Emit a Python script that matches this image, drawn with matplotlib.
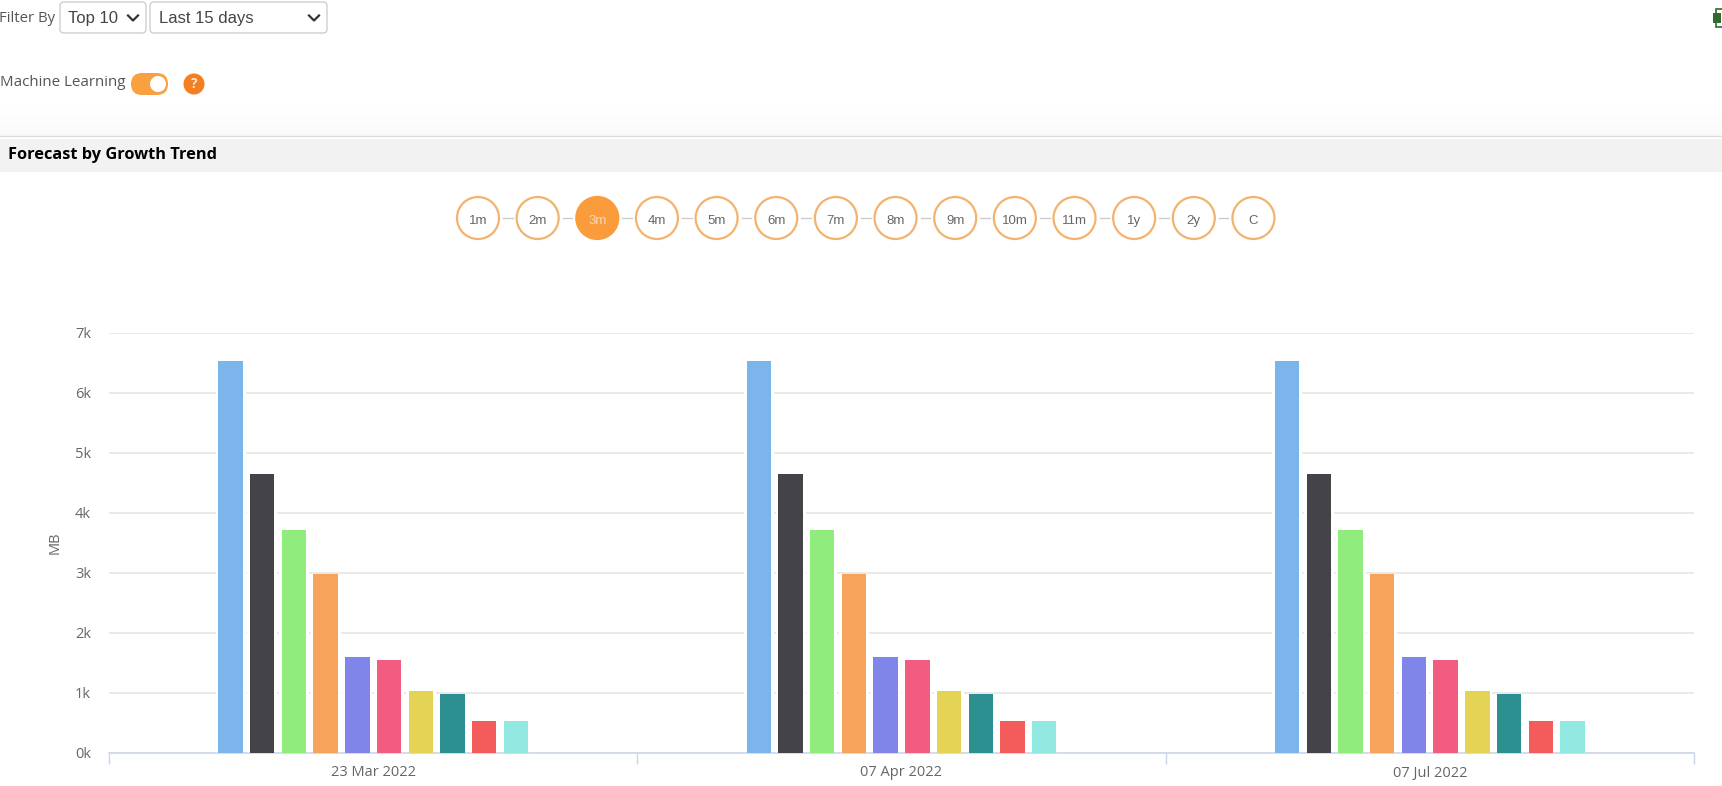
import matplotlib
matplotlib.use("Agg")
import matplotlib.pyplot as plt
from matplotlib.patches import Circle, FancyBboxPatch, Rectangle
import numpy as np

W, H = 1722, 786

dates = ["23 Mar 2022", "07 Apr 2022", "07 Jul 2022"]
values = [6530, 4650, 3720, 2980, 1600, 1550, 1030, 985, 530, 530]
colors = ["#7cb5ec", "#434348", "#90ed7d", "#f7a35c", "#8085e9",
          "#f15c80", "#e4d354", "#2b908f", "#f45b5b", "#91e8e1"]
yticks = [0, 1000, 2000, 3000, 4000, 5000, 6000, 7000]
ytick_labels = ["0k", "1k", "2k", "3k", "4k", "5k", "6k", "7k"]
ranges = ["1m", "2m", "3m", "4m", "5m", "6m", "7m", "8m", "9m", "10m", "11m", "1y", "2y", "C"]
active_range = "3m"

plt.rcParams["font.family"] = ["Open Sans", "DejaVu Sans"]
fig = plt.figure(figsize=(W / 100, H / 100), dpi=100)

# Chart
left, right, top, bottom = 109, 1694, 333, 753
ax = fig.add_axes([left / W, 1 - bottom / H, (right - left) / W, (bottom - top) / H])
band = (right - left) / 3
pitch = 31.7 / band
width = 24.4 / band
halo = 30 / band
x = np.arange(len(dates))
for i, (v, c) in enumerate(zip(values, colors)):
    pos = x + (i - 4.5) * pitch
    ax.bar(pos, [v] * len(dates), width=halo, color="white", zorder=2)
    ax.bar(pos, [v] * len(dates), width=width, color=c, zorder=3)

ax.set_xlim(-0.5, 2.5)
ax.set_ylim(0, 7000)
ax.set_yticks(yticks)
ax.set_yticklabels(ytick_labels, color="#666666", fontsize=10.5)
ax.set_xticks(x)
ax.set_xticklabels(dates, color="#666666", fontsize=10.5)
ax.tick_params(axis="y", length=0, pad=13)
ax.tick_params(axis="x", length=0, pad=9)
ax.set_xticks(np.arange(-0.5, 3), minor=True)
ax.tick_params(axis="x", which="minor", length=8, width=1, color="#ccd6eb")
ax.grid(axis="y", color="#e6e6e6", lw=1.2, zorder=1)
ax.set_axisbelow(True)
for s in ["top", "left", "right"]:
    ax.spines[s].set_visible(False)
ax.spines["bottom"].set_color("#ccd6eb")
ax.spines["bottom"].set_linewidth(1.2)
ax.set_ylabel("MB", color="#666666", fontsize=10.5, labelpad=9)

# Page controls around the chart, in pixel coordinates
ui = fig.add_axes([0, 0, 1, 1], zorder=-1)
ui.set_xlim(0, W)
ui.set_ylim(H, 0)
ui.axis("off")

def box(x0, y0, w, h):
    ui.add_patch(FancyBboxPatch((x0, y0), w, h, boxstyle="round,pad=0,rounding_size=4",
                                fc="white", ec="#cfcfcf", lw=1))

def chevron(cx, cy):
    ui.plot([cx - 5, cx, cx + 5], [cy - 2.5, cy + 2.5, cy - 2.5], color="#333333", lw=1.6)

ui.text(-1, 19, "Filter By", fontsize=10.7, color="#555555", va="center")
box(60, 2, 86, 31)
ui.text(68, 18, "Top 10", family="Liberation Sans", fontsize=12, color="#444444", va="center")
chevron(133, 18)
box(150, 2, 177, 31)
ui.text(159, 18, "Last 15 days", family="Liberation Sans", fontsize=12, color="#444444", va="center")
chevron(314, 18)

ui.text(0, 83, "Machine Learning", fontsize=10.9, color="#555555", va="center")
ui.add_patch(FancyBboxPatch((131, 73), 37, 22, boxstyle="round,pad=0,rounding_size=11",
                            fc="#f9a040", ec="none"))
ui.add_patch(Circle((158, 84), 8, fc="white", ec="none"))
ui.add_patch(Circle((194, 84), 10.5, fc="#f47f20", ec="none"))
ui.text(194, 84, "?", fontsize=10, fontweight="bold", color="#f8e8d8", ha="center", va="center")

# faint shadow above the section header
ui.imshow(np.linspace(1, 0.975, 32).reshape(-1, 1), cmap="gray", vmin=0, vmax=1,
          extent=(0, W, 136, 104), aspect="auto", zorder=0)
ui.set_xlim(0, W)
ui.set_ylim(H, 0)
ui.plot([0, W], [136, 136], color="#dddddd", lw=1)
ui.add_patch(Rectangle((0, 139), W, 33, fc="#f2f2f2", ec="none"))
ui.text(8, 155, "Forecast by Growth Trend", fontsize=11.8, fontweight="bold", color="black", va="center")

# Excel icon, cut off at the right edge
ui.add_patch(Rectangle((1716, 9), 10, 18, fc="white", ec="#2f6b2f", lw=1.2))
ui.add_patch(Rectangle((1713, 13), 8, 10, fc="#2f6b2f", ec="none"))

# Range selector
cx0, step, cy, r = 478, 59.65, 218, 21
for i, label in enumerate(ranges):
    c = cx0 + i * step
    on = label == active_range
    if i < len(ranges) - 1:
        ui.plot([c + r + 4, c + step - r - 4], [cy, cy], color="#cccccc", lw=1, zorder=1)
    ui.add_patch(Circle((c, cy), r, fc="#fb9c3c" if on else "white",
                        ec="#fb9c3c" if on else "#f4b26f", lw=1.6, zorder=2))
    ui.text(c, cy + 6, label, family="Liberation Sans", fontsize=9.5,
            color="#f3d8bc" if on else "#666666", ha="center", va="baseline", zorder=3)

fig.savefig("out.png", dpi=100)
